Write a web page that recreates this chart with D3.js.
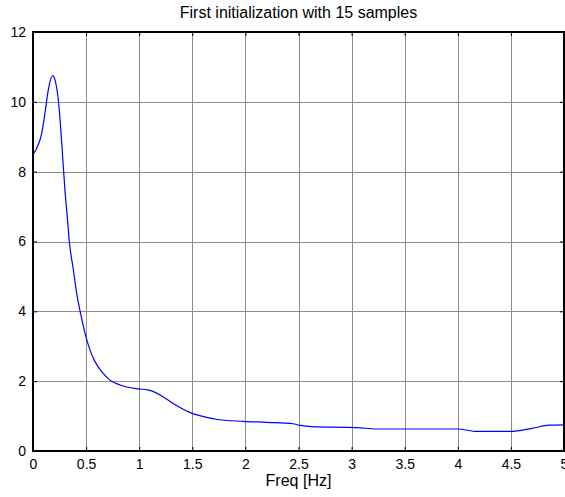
<!DOCTYPE html>
<html>
<head>
<meta charset="utf-8">
<script src="https://cdn.jsdelivr.net/npm/d3@7"></script>
<style>
  body { margin: 0; background: #fff; }
  text { font-family: "Liberation Sans", Arial, sans-serif; }
</style>
</head>
<body>
<script>
// curve
const freq = [0, 0.035, 0.082, 0.113, 0.144, 0.185, 0.207, 0.238, 0.26, 0.28, 0.3, 0.323, 0.342, 0.38,
  0.411, 0.443, 0.49, 0.537, 0.584, 0.647, 0.725, 0.82, 0.99, 1.08, 1.15, 1.22, 1.32, 1.48, 1.6, 1.72, 1.98,
  2.2, 2.45, 2.5, 2.62, 3.05, 3.24, 4.0, 4.18, 4.5, 4.7, 4.86, 5.0]
const mag = [8.5, 8.67, 9.1, 9.68, 10.34, 10.75, 10.63, 10.06, 9.29, 8.4, 7.5, 6.7, 6.0, 5.19,
  4.52, 4.01, 3.37, 2.89, 2.56, 2.27, 2.03, 1.89, 1.78, 1.75, 1.68, 1.56, 1.36, 1.1, 0.99, 0.91, 0.85,
  0.82, 0.78, 0.74, 0.70, 0.67, 0.63, 0.63, 0.56, 0.56, 0.65, 0.74, 0.75]

const xTicks = [0, 0.5, 1, 1.5, 2, 2.5, 3, 3.5, 4, 4.5, 5]
const yTicks = [0, 2, 4, 6, 8, 10, 12]
const title = 'First initialization with 15 samples'
const xLabel = 'Freq [Hz]'

const W = 565, H = 497
const margin = { top: 32, left: 33, right: 1, bottom: 46 }
const width = W - margin.left - margin.right,
  height = H - margin.top - margin.bottom

const svg = d3.select('body')
  .append('svg')
  .attr('width', W)
  .attr('height', H)

const g = svg.append('g')
  .attr('transform', `translate(${margin.left}, ${margin.top})`)

const x = d3.scaleLinear().domain([0, 5]).range([0, width])
const y = d3.scaleLinear().domain([0, 12]).range([height, 0])

// grid
g.append('g')
  .selectAll('line')
  .data(xTicks.slice(1, -1))
  .enter()
  .append('line')
  .attr('x1', d => Math.round(x(d)) + 0.5)
  .attr('x2', d => Math.round(x(d)) + 0.5)
  .attr('y1', 0)
  .attr('y2', height)
  .attr('stroke', '#8c8c8c')
g.append('g')
  .selectAll('line')
  .data(yTicks.slice(1, -1))
  .enter()
  .append('line')
  .attr('y1', d => Math.round(y(d)) + 0.5)
  .attr('y2', d => Math.round(y(d)) + 0.5)
  .attr('x1', 0)
  .attr('x2', width)
  .attr('stroke', '#8c8c8c')

// curve
const pts = freq.map((f, i) => [f, mag[i]])
g.append('path')
  .datum(pts)
  .attr('d', d3.line().x(d => x(d[0])).y(d => y(d[1])).curve(d3.curveMonotoneX))
  .attr('fill', 'none')
  .attr('stroke', '#0000ff')
  .attr('stroke-width', 1.2)

// axes, ticks pointing inward
const fmt = d => String(d)
g.append('g')
  .attr('transform', `translate(0, ${height})`)
  .call(d3.axisBottom(x).tickValues(xTicks).tickFormat(fmt).tickSize(-4).tickPadding(8))
g.append('g')
  .call(d3.axisLeft(y).tickValues(yTicks).tickFormat(fmt).tickSize(-4).tickPadding(7))
g.append('g')
  .call(d3.axisTop(x).tickValues(xTicks).tickFormat('').tickSize(-4))
g.append('g')
  .attr('transform', `translate(${width}, 0)`)
  .call(d3.axisRight(y).tickValues(yTicks).tickFormat('').tickSize(-4))

g.selectAll('.domain').remove()
g.selectAll('.tick line').attr('stroke', '#000')
g.selectAll('.tick text')
  .attr('fill', '#000')
  .style('font-family', '"Liberation Sans", Arial, sans-serif')
  .style('font-size', '14px')

// box
g.append('rect')
  .attr('x', 0)
  .attr('y', 0)
  .attr('width', width)
  .attr('height', height)
  .attr('fill', 'none')
  .attr('stroke', '#000')
  .attr('stroke-width', 2)

svg.append('text')
  .attr('x', margin.left + width / 2)
  .attr('y', 18)
  .attr('text-anchor', 'middle')
  .style('font-size', '16px')
  .text(title)

svg.append('text')
  .attr('x', margin.left + width / 2)
  .attr('y', 486)
  .attr('text-anchor', 'middle')
  .style('font-size', '16px')
  .text(xLabel)
</script>
</body>
</html>
